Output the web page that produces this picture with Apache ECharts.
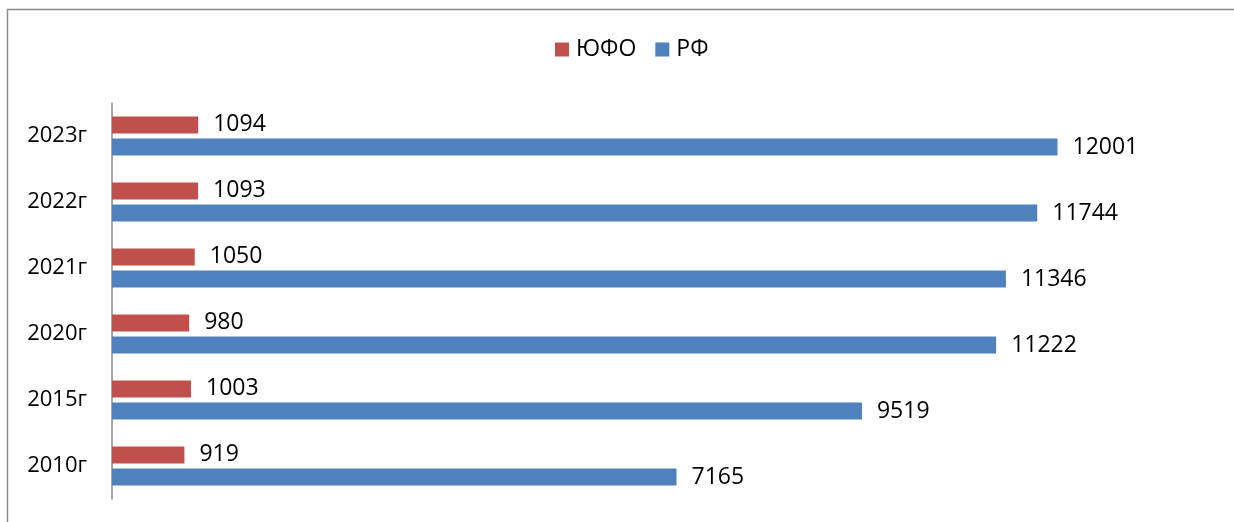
<!DOCTYPE html>
<html>
<head>
<meta charset="utf-8">
<script src="https://cdn.jsdelivr.net/npm/echarts@6/dist/echarts.min.js"></script>
<style>
html,body{margin:0;padding:0;background:#fff;}
#chart{width:1234px;height:522px;}
</style>
</head>
<body>
<div id="chart"></div>
<script>
var categories = ['2010г', '2015г', '2020г', '2021г', '2022г', '2023г'];
var seriesNames = ['ЮФО', 'РФ'];
var yufoValues = [919, 1003, 980, 1050, 1093, 1094];
var rfValues = [7165, 9519, 11222, 11346, 11744, 12001];

var FONT = '"Open Sans", "Liberation Sans", sans-serif';
var chart = echarts.init(document.getElementById('chart'), null, {renderer: 'canvas'});
var labelStyle = {
  show: true, position: 'right', distance: 15,
  color: '#000', fontSize: 23, fontFamily: FONT
};
chart.setOption({
  animation: false,
  backgroundColor: '#fff',
  textStyle: {fontFamily: FONT},
  graphic: [
    {type: 'line', shape: {x1: 7.5, y1: 9, x2: 7.5, y2: 522}, style: {stroke: '#8a8a8a', lineWidth: 1.5}},
    {type: 'line', shape: {x1: 7, y1: 9.5, x2: 1234, y2: 9.5}, style: {stroke: '#8a8a8a', lineWidth: 1.5}}
  ],
  legend: {
    data: seriesNames,
    top: 33,
    left: 550,
    itemWidth: 14, itemHeight: 14, itemGap: 19,
    icon: 'rect',
    textStyle: {fontSize: 23, color: '#000', fontFamily: FONT, padding: [0, 0, 0, 2]}
  },
  grid: {left: 112, right: 19, top: 103, bottom: 23, containLabel: false},
  xAxis: {
    type: 'value', min: 0, max: 14000,
    show: false
  },
  yAxis: {
    type: 'category', data: categories,
    axisLine: {show: true, lineStyle: {color: '#8a8a8a', width: 1.5}},
    axisTick: {show: false},
    axisLabel: {fontSize: 22, color: '#000', margin: 25, fontFamily: FONT}
  },
  series: [
    {name: seriesNames[0], type: 'bar', data: yufoValues, barWidth: 17, barGap: '30%',
     itemStyle: {color: '#C0504D'}, label: labelStyle},
    {name: seriesNames[1], type: 'bar', data: rfValues, barWidth: 17, barGap: '30%',
     itemStyle: {color: '#4F81BD'}, label: labelStyle}
  ]
});
</script>
</body>
</html>
